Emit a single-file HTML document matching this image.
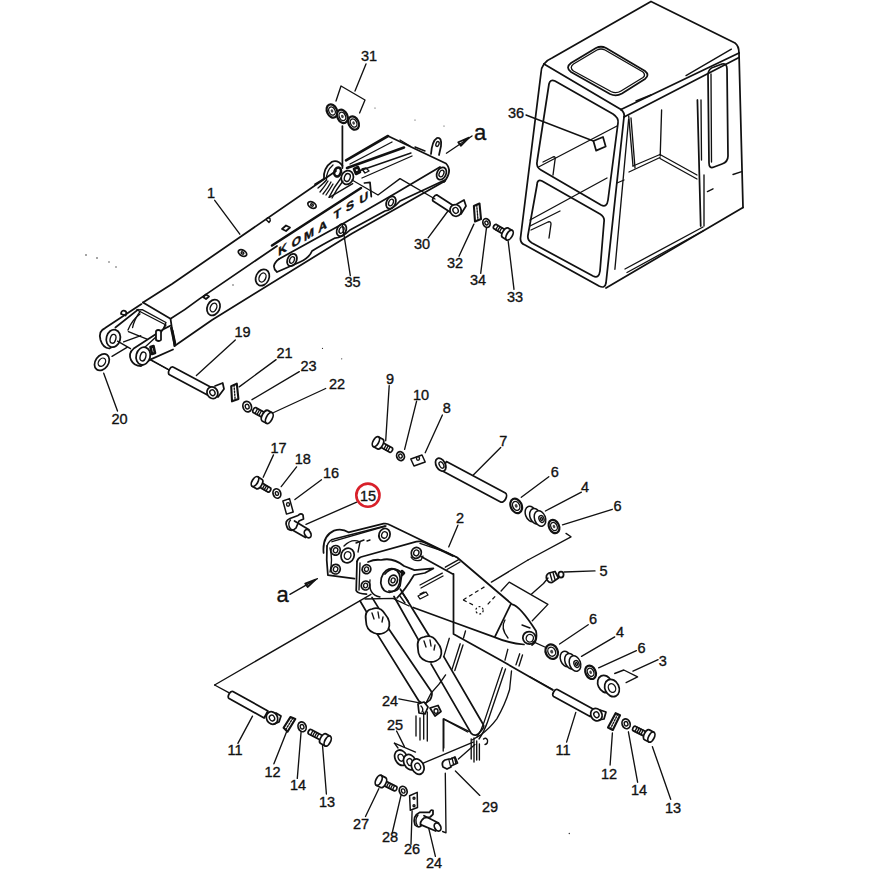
<!DOCTYPE html>
<html><head><meta charset="utf-8">
<style>
html,body{margin:0;padding:0;background:#fff;}
body{width:874px;height:874px;overflow:hidden;}
svg{display:block;}
text{font-family:"Liberation Sans",sans-serif;font-size:14.5px;fill:#111;text-anchor:middle;stroke:#111;stroke-width:0.35;}
.s{fill:none;stroke:#111;stroke-width:1.75;stroke-linecap:round;stroke-linejoin:round;}
.t{fill:none;stroke:#111;stroke-width:1.35;stroke-linecap:round;stroke-linejoin:round;}
.k{fill:none;stroke:#111;stroke-width:2.6;stroke-linecap:round;stroke-linejoin:round;}
.w{fill:#fff;stroke:#111;stroke-width:1.75;stroke-linejoin:round;}
.d{fill:none;stroke:#111;stroke-width:1.2;stroke-dasharray:4 3;}
</style></head><body>
<svg width="874" height="874" viewBox="0 0 874 874">
<rect width="874" height="874" fill="#fff"/>
<path class="t" d="M366.0 64.0 L355.0 91.0"/>
<path class="t" d="M526.0 115.0 L593.4 141.0"/>
<path class="t" d="M214.7 200.3 L239.8 234.2"/>
<path class="t" d="M428.1 237.8 L447.6 211.5"/>
<path class="t" d="M459.0 256.2 L473.9 224.1"/>
<path class="t" d="M480.7 273.3 L486.5 227.6"/>
<path class="t" d="M514.0 289.3 L508.2 241.3"/>
<path class="t" d="M350.3 275.6 L342.3 224.1"/>
<path class="t" d="M235.3 340.0 L196.4 375.5"/>
<path class="t" d="M276.1 359.6 L239.2 386.9"/>
<path class="t" d="M299.3 371.6 L252.0 399.7"/>
<path class="t" d="M325.7 388.5 L273.7 412.5"/>
<path class="t" d="M117.5 411.0 L103.7 373.2"/>
<path class="t" d="M389.2 385.7 L385.7 440.7"/>
<path class="t" d="M416.6 401.2 L404.6 449.3"/>
<path class="t" d="M442.4 415.0 L425.2 452.7"/>
<path class="t" d="M500.7 447.5 L473.3 475.0"/>
<path class="t" d="M273.5 454.9 L263.2 477.2"/>
<path class="t" d="M296.6 466.9 L281.2 486.6"/>
<path class="t" d="M321.5 479.8 L294.9 499.5"/>
<path class="t" d="M356.7 502.1 L306.0 524.4"/>
<path class="t" d="M548.8 476.7 L521.3 497.3"/>
<path class="t" d="M581.4 492.2 L545.4 511.0"/>
<path class="t" d="M612.3 509.3 L562.5 524.8"/>
<path class="t" d="M457.9 525.2 L448.7 546.9"/>
<path class="t" d="M564.2 572.0 L595.0 570.9"/>
<path class="t" d="M588.2 624.7 L559.6 644.0"/>
<path class="t" d="M614.7 636.9 L581.5 656.3"/>
<path class="t" d="M636.4 650.6 L598.6 667.8"/>
<path class="t" d="M658.1 659.7 L633.0 671.2"/>
<path class="t" d="M398.8 698.9 L422.1 703.3"/>
<path class="t" d="M396.6 731.0 L404.4 746.6"/>
<path class="t" d="M237.9 743.4 L252.5 716.1"/>
<path class="t" d="M273.9 763.8 L286.6 731.7"/>
<path class="t" d="M297.3 778.4 L301.1 731.7"/>
<path class="t" d="M326.4 794.0 L322.5 745.3"/>
<path class="t" d="M566.6 742.1 L575.8 712.4"/>
<path class="t" d="M610.1 765.0 L612.4 733.0"/>
<path class="t" d="M637.6 782.2 L628.4 731.8"/>
<path class="t" d="M670.7 799.3 L652.4 746.7"/>
<path class="t" d="M455.4 771.0 L479.8 795.4"/>
<path class="t" d="M365.5 816.5 L378.8 788.7"/>
<path class="t" d="M392.2 833.0 L401.0 795.4"/>
<path class="t" d="M411.0 844.2 L412.1 811.0"/>
<path class="t" d="M435.4 856.4 L428.8 828.7"/>
<path class="t" d="M336.0 101.0 L341.0 86.0 L365.0 100.0 L359.6 113.0"/>
<path class="t" d="M614.7 673.5 L623.8 670.0 L637.6 676.9 L626.1 682.6"/>
<path class="t" d="M446.4 153.2 L472.0 136.0"/>
<path class="s" d="M458.2 142.2 L460.8 145.8 L469 137.6 Z"/>
<path class="t" d="M289.9 594.4 L317.4 578.6"/>
<path class="s" d="M305.2 583.6 L307.6 587 L315.5 579.6 Z"/>
<ellipse cx="332" cy="111" rx="5" ry="7" transform="rotate(-25 332 111)" style="fill:#fff;stroke:#111;stroke-width:2.2"/>
<ellipse class="t" cx="332" cy="111" rx="3.1" ry="4.34" transform="rotate(-25 332 111)"/>
<ellipse cx="332" cy="111" rx="1.25" ry="1.75" transform="rotate(-25 332 111)" style="fill:#444;stroke:none"/>
<ellipse cx="342.4" cy="116.4" rx="5" ry="7" transform="rotate(-25 342.4 116.4)" style="fill:#fff;stroke:#111;stroke-width:2.2"/>
<ellipse class="t" cx="342.4" cy="116.4" rx="3.1" ry="4.34" transform="rotate(-25 342.4 116.4)"/>
<ellipse cx="342.4" cy="116.4" rx="1.25" ry="1.75" transform="rotate(-25 342.4 116.4)" style="fill:#444;stroke:none"/>
<ellipse cx="353.6" cy="123" rx="5" ry="7" transform="rotate(-25 353.6 123)" style="fill:#fff;stroke:#111;stroke-width:2.2"/>
<ellipse class="t" cx="353.6" cy="123" rx="3.1" ry="4.34" transform="rotate(-25 353.6 123)"/>
<ellipse cx="353.6" cy="123" rx="1.25" ry="1.75" transform="rotate(-25 353.6 123)" style="fill:#444;stroke:none"/>
<path class="s" d="M342.4 126.0 L342.4 168.0"/>
<path class="w" d="M433.0 201.1 L450.0 212.1 L454.0 205.9 L437.0 194.9 A2.2 3.8 33 0 0 433.0 201.1Z"/>
<ellipse class="w" cx="455.6" cy="210.4" rx="5.5" ry="6" transform="rotate(-30 455.6 210.4)"/>
<ellipse class="t" cx="455.6" cy="210.4" rx="2.6" ry="3" transform="rotate(-30 455.6 210.4)"/>
<path class="s" d="M457 204 L464 200 L466 206 L461 214"/>
<path class="s" d="M473.9 206.0 L479.5 203.5 L481.0 219.0 L475.0 221.5Z" style="fill:#fff;stroke-width:2.1"/>
<path class="t" d="M476.7 204.8 L478.0 220.2" style="stroke-dasharray:1.5 1.5"/>
<ellipse class="w" cx="486.5" cy="223" rx="3.5" ry="4.5" transform="rotate(-20 486.5 223)"/>
<ellipse class="t" cx="486.5" cy="223" rx="1.575" ry="2.025" transform="rotate(-20 486.5 223)"/>
<path class="w" d="M493.7 228.6 L506.9 236.5 L509.5 232.3 L496.3 224.4 A1.5 2.5 31 0 0 493.7 228.6Z"/>
<path class="t" d="M495.6 229.8 L498.2 225.5"/>
<path class="t" d="M497.5 230.9 L500.1 226.6"/>
<path class="t" d="M499.4 232.0 L501.9 227.7"/>
<path class="w" d="M502.4 237.3 L506.7 239.9 L512.3 230.5 L508.0 227.9 A2.8 5.5 31 0 0 502.4 237.3Z"/>
<ellipse class="w" cx="509.5" cy="235.2" rx="2.8" ry="5.5" transform="rotate(31 509.5 235.2)"/>
<path class="w" d="M169.5 374.8 L207.0 394.8 L211.0 387.2 L173.5 367.2 A2.5 4.2 28 0 0 169.5 374.8Z"/>
<ellipse class="w" cx="212.4" cy="392.7" rx="5.3" ry="6" transform="rotate(-30 212.4 392.7)"/>
<ellipse class="t" cx="212.4" cy="392.7" rx="2.5" ry="3" transform="rotate(-30 212.4 392.7)"/>
<path class="s" d="M215 386 L222.7 383 L224 389 L218 397"/>
<path class="t" d="M150.6 359.5 L169.0 369.8"/>
<path class="s" d="M231.2 386.1 L236.8 383.7 L238.4 398.9 L232.0 401.3Z" style="fill:#fff;stroke-width:2.1"/>
<path class="t" d="M234.0 384.9 L235.2 400.1" style="stroke-dasharray:1.5 1.5"/>
<ellipse class="w" cx="247.2" cy="406.6" rx="4.2" ry="5.3" transform="rotate(-20 247.2 406.6)"/>
<ellipse class="t" cx="247.2" cy="406.6" rx="1.8900000000000001" ry="2.385" transform="rotate(-20 247.2 406.6)"/>
<path class="w" d="M253.1 412.4 L266.7 419.7 L269.3 414.9 L255.7 407.6 A1.6 2.8 28 0 0 253.1 412.4Z"/>
<path class="t" d="M255.0 413.5 L257.6 408.6"/>
<path class="t" d="M257.0 414.5 L259.6 409.7"/>
<path class="t" d="M258.9 415.5 L261.5 410.7"/>
<path class="w" d="M262.1 420.9 L266.5 423.3 L272.2 412.7 L267.8 410.4 A3.0 6.0 28 0 0 262.1 420.9Z"/>
<ellipse class="w" cx="269.3" cy="418.0" rx="3.0" ry="6.0" transform="rotate(28 269.3 418.0)"/>
<ellipse class="w" cx="101.9" cy="362.2" rx="6.5" ry="9" transform="rotate(35 101.9 362.2)"/>
<ellipse class="t" cx="101.9" cy="362.2" rx="3.25" ry="4.5" transform="rotate(35 101.9 362.2)"/>
<path class="w" d="M392.1 447.8 L378.4 440.2 L376.0 444.6 L389.7 452.2 A1.5 2.5 -151 0 0 392.1 447.8Z"/>
<path class="t" d="M390.2 446.7 L387.8 451.1"/>
<path class="t" d="M388.3 445.7 L385.8 450.1"/>
<path class="t" d="M386.3 444.6 L383.9 449.0"/>
<path class="w" d="M382.9 439.3 L378.6 436.9 L373.2 446.5 L377.6 448.9 A2.8 5.5 -151 0 0 382.9 439.3Z"/>
<ellipse class="w" cx="375.9" cy="441.7" rx="2.8" ry="5.5" transform="rotate(-151 375.9 441.7)"/>
<ellipse class="w" cx="400.5" cy="456.1" rx="3.8" ry="4.5" transform="rotate(-20 400.5 456.1)"/>
<ellipse class="t" cx="400.5" cy="456.1" rx="1.71" ry="2.025" transform="rotate(-20 400.5 456.1)"/>
<path class="s" d="M410.8 459.0 L422.0 455.0 L425.2 462.0 L414.0 466.0Z" style="fill:#fff;stroke-width:1.5"/>
<ellipse class="t" cx="418.0" cy="458.5" rx="1.5" ry="1.8" transform="rotate(0 418.0 458.5)" style="fill:#fff"/>
<path class="w" d="M505.4 493.1 L446.4 461.6 L441.6 470.4 L500.6 501.9 A3.0 5.0 -152 0 0 505.4 493.1Z"/>
<ellipse class="w" cx="440.7" cy="464.7" rx="4.5" ry="7" transform="rotate(-30 440.7 464.7)"/>
<ellipse class="t" cx="441.5" cy="465" rx="2" ry="3.5" transform="rotate(-30 441.5 465)"/>
<ellipse cx="516.2" cy="505.9" rx="5.5" ry="7.5" transform="rotate(-25 516.2 505.9)" style="fill:#fff;stroke:#111;stroke-width:2.2"/>
<ellipse class="t" cx="516.2" cy="505.9" rx="3.41" ry="4.65" transform="rotate(-25 516.2 505.9)"/>
<ellipse cx="516.2" cy="505.9" rx="1.375" ry="1.875" transform="rotate(-25 516.2 505.9)" style="fill:#444;stroke:none"/>
<ellipse cx="531" cy="514.0" rx="5.5" ry="8" transform="rotate(-20 531 514.0)" style="fill:#fff;stroke:#111;stroke-width:1.5"/>
<ellipse cx="535.5" cy="516.25" rx="5.5" ry="8" transform="rotate(-20 535.5 516.25)" style="fill:#fff;stroke:#111;stroke-width:1.5"/>
<ellipse cx="540" cy="518.5" rx="5.5" ry="8" transform="rotate(-20 540 518.5)" style="fill:#fff;stroke:#111;stroke-width:1.5"/>
<ellipse class="t" cx="541.5" cy="519" rx="2.5" ry="3.5" transform="rotate(-20 541.5 519)"/>
<ellipse class="t" cx="541.5" cy="519" rx="1" ry="1.5" transform="rotate(-20 541.5 519)"/>
<ellipse cx="554" cy="526.5" rx="5" ry="7" transform="rotate(-25 554 526.5)" style="fill:#fff;stroke:#111;stroke-width:2.2"/>
<ellipse class="t" cx="554" cy="526.5" rx="3.1" ry="4.34" transform="rotate(-25 554 526.5)"/>
<ellipse cx="554" cy="526.5" rx="1.25" ry="1.75" transform="rotate(-25 554 526.5)" style="fill:#444;stroke:none"/>
<path class="t" d="M566.0 533.4 L571.0 536.8 L528.0 560.0"/>
<path class="w" d="M270.5 487.9 L257.6 480.2 L255.0 484.4 L267.9 492.1 A1.5 2.5 -149 0 0 270.5 487.9Z"/>
<path class="t" d="M268.6 486.7 L266.0 491.0"/>
<path class="t" d="M266.7 485.6 L264.1 489.9"/>
<path class="t" d="M264.8 484.5 L262.3 488.8"/>
<path class="w" d="M262.1 479.4 L257.8 476.8 L252.2 486.3 L256.5 488.8 A2.8 5.5 -149 0 0 262.1 479.4Z"/>
<ellipse class="w" cx="255.0" cy="481.5" rx="2.8" ry="5.5" transform="rotate(-149 255.0 481.5)"/>
<ellipse class="w" cx="276.9" cy="493.5" rx="3.8" ry="4.8" transform="rotate(-20 276.9 493.5)"/>
<ellipse class="t" cx="276.9" cy="493.5" rx="1.52" ry="1.92" transform="rotate(-20 276.9 493.5)"/>
<path class="s" d="M282.9 501.0 L289.5 498.6 L293.2 512.0 L286.5 514.1Z" style="fill:#fff;stroke-width:1.5"/>
<ellipse class="t" cx="288.025" cy="504.42499999999995" rx="1.5" ry="1.8" transform="rotate(0 288.025 504.42499999999995)" style="fill:#fff"/>
<path class="w" d="M287 527 Q284 521 290 518.5 L298 515.5 Q301 512.5 303 515 L303.5 519 L299 521 L296 528 Q292 532 288 529 Z"/>
<path class="t" d="M290.5 520 Q287 524 290.5 529"/>
<path class="s" d="M294.5 521 L309 529.8 M291.5 529.5 L305.5 537.5"/>
<ellipse class="w" cx="307.7" cy="533.7" rx="3" ry="4.4" transform="rotate(-30 307.7 533.7)"/>
<path class="w" d="M547 580 Q545 575 549 573 L555 571.5 L558.5 578 L552 582.5 Q549 583 547 580 Z"/>
<path class="t" d="M550 573.5 l2 7 M553 572.5 l2 7"/>
<ellipse class="w" cx="561" cy="574.5" rx="2.6" ry="3" transform="rotate(0 561 574.5)"/>
<ellipse cx="551.7" cy="651.7" rx="6" ry="7.5" transform="rotate(-25 551.7 651.7)" style="fill:#fff;stroke:#111;stroke-width:2.2"/>
<ellipse class="t" cx="551.7" cy="651.7" rx="3.7199999999999998" ry="4.65" transform="rotate(-25 551.7 651.7)"/>
<ellipse cx="551.7" cy="651.7" rx="1.5" ry="1.875" transform="rotate(-25 551.7 651.7)" style="fill:#444;stroke:none"/>
<ellipse cx="566" cy="659.0" rx="5.5" ry="8" transform="rotate(-20 566 659.0)" style="fill:#fff;stroke:#111;stroke-width:1.5"/>
<ellipse cx="570.5" cy="661.25" rx="5.5" ry="8" transform="rotate(-20 570.5 661.25)" style="fill:#fff;stroke:#111;stroke-width:1.5"/>
<ellipse cx="575" cy="663.5" rx="5.5" ry="8" transform="rotate(-20 575 663.5)" style="fill:#fff;stroke:#111;stroke-width:1.5"/>
<ellipse class="t" cx="576.5" cy="664" rx="2.5" ry="3.5" transform="rotate(-20 576.5 664)"/>
<ellipse class="t" cx="576.5" cy="664" rx="1" ry="1.5" transform="rotate(-20 576.5 664)"/>
<ellipse cx="590.6" cy="672.3" rx="5" ry="7" transform="rotate(-25 590.6 672.3)" style="fill:#fff;stroke:#111;stroke-width:2.2"/>
<ellipse class="t" cx="590.6" cy="672.3" rx="3.1" ry="4.34" transform="rotate(-25 590.6 672.3)"/>
<ellipse cx="590.6" cy="672.3" rx="1.25" ry="1.75" transform="rotate(-25 590.6 672.3)" style="fill:#444;stroke:none"/>
<ellipse class="w" cx="605" cy="684" rx="7" ry="9" transform="rotate(-25 605 684)"/>
<ellipse class="w" cx="612" cy="688" rx="7" ry="9" transform="rotate(-25 612 688)"/>
<ellipse class="t" cx="612" cy="688" rx="3.5" ry="4.5" transform="rotate(-25 612 688)"/>
<path class="t" d="M530.0 676.9 L552.9 689.5"/>
<path class="w" d="M553.6 696.5 L590.1 716.5 L593.9 709.5 L557.4 689.5 A2.4 4.0 29 0 0 553.6 696.5Z"/>
<ellipse class="w" cx="596.4" cy="714.7" rx="5.5" ry="6.5" transform="rotate(-30 596.4 714.7)"/>
<ellipse class="t" cx="596.4" cy="714.7" rx="2.5" ry="3" transform="rotate(-30 596.4 714.7)"/>
<path class="s" d="M600 710 L606 712 L604 719 L599 720"/>
<path class="s" d="M608.0 727.6 L615.6 713.2 L620.0 715.2 L612.8 730.0Z" style="fill:#fff;stroke-width:2.1"/>
<path class="t" d="M617.8 714.2 L610.4 728.8" style="stroke-dasharray:1.5 1.5"/>
<ellipse class="w" cx="626.1" cy="723.8" rx="4" ry="5" transform="rotate(-20 626.1 723.8)"/>
<ellipse class="t" cx="626.1" cy="723.8" rx="1.8" ry="2.25" transform="rotate(-20 626.1 723.8)"/>
<path class="w" d="M633.0 730.6 L649.0 738.6 L651.2 734.2 L635.2 726.2 A1.5 2.5 27 0 0 633.0 730.6Z"/>
<path class="t" d="M634.9 731.6 L637.2 727.1"/>
<path class="t" d="M636.9 732.6 L639.2 728.1"/>
<path class="t" d="M638.9 733.6 L641.1 729.1"/>
<path class="t" d="M640.9 734.6 L643.1 730.1"/>
<path class="w" d="M644.5 739.8 L649.0 742.0 L653.9 732.2 L649.4 729.9 A2.8 5.5 27 0 0 644.5 739.8Z"/>
<ellipse class="w" cx="651.4" cy="737.1" rx="2.8" ry="5.5" transform="rotate(27 651.4 737.1)"/>
<path class="t" d="M214.6 685.0 L229.2 692.8"/>
<path class="t" d="M214.6 685.0 L371.0 594.3"/>
<path class="w" d="M229.1 698.5 L264.1 718.0 L267.9 711.0 L232.9 691.5 A2.4 4.0 29 0 0 229.1 698.5Z"/>
<ellipse class="w" cx="272" cy="718" rx="5.5" ry="6.5" transform="rotate(-30 272 718)"/>
<ellipse class="t" cx="272" cy="718" rx="2.5" ry="3" transform="rotate(-30 272 718)"/>
<path class="s" d="M276 713 L281 716 L279 722 L274 724"/>
<path class="s" d="M283.6 727.8 L290.4 717.1 L295.3 719.0 L287.5 731.7Z" style="fill:#fff;stroke-width:2.1"/>
<path class="t" d="M292.9 718.0 L285.6 729.8" style="stroke-dasharray:1.5 1.5"/>
<ellipse class="w" cx="302.1" cy="726.8" rx="4" ry="5" transform="rotate(-20 302.1 726.8)"/>
<ellipse class="t" cx="302.1" cy="726.8" rx="1.8" ry="2.25" transform="rotate(-20 302.1 726.8)"/>
<path class="w" d="M308.7 733.9 L325.2 742.6 L327.6 738.2 L311.1 729.5 A1.5 2.5 28 0 0 308.7 733.9Z"/>
<path class="t" d="M310.7 734.9 L313.0 730.5"/>
<path class="t" d="M312.6 736.0 L315.0 731.5"/>
<path class="t" d="M314.6 737.0 L316.9 732.6"/>
<path class="t" d="M316.5 738.0 L318.9 733.6"/>
<path class="w" d="M320.7 743.6 L325.2 746.0 L330.3 736.2 L325.9 733.9 A2.8 5.5 28 0 0 320.7 743.6Z"/>
<ellipse class="w" cx="327.7" cy="741.1" rx="2.8" ry="5.5" transform="rotate(28 327.7 741.1)"/>
<path class="t" d="M394.4 743.2 L415.5 752.1"/>
<path class="t" d="M394.4 743.2 L398.0 748.0"/>
<ellipse class="w" cx="401" cy="757.7" rx="6" ry="8" transform="rotate(-25 401 757.7)"/>
<ellipse class="t" cx="401" cy="757.7" rx="2.7" ry="3.6" transform="rotate(-25 401 757.7)"/>
<ellipse class="w" cx="409.9" cy="762.1" rx="6" ry="8" transform="rotate(-25 409.9 762.1)"/>
<ellipse class="t" cx="409.9" cy="762.1" rx="2.7" ry="3.6" transform="rotate(-25 409.9 762.1)"/>
<ellipse class="w" cx="417.7" cy="766.6" rx="6" ry="8" transform="rotate(-25 417.7 766.6)"/>
<ellipse class="t" cx="417.7" cy="766.6" rx="2.7" ry="3.6" transform="rotate(-25 417.7 766.6)"/>
<path class="t" d="M423.2 763.2 L473.2 742.1"/>
<path class="w" d="M443 767 Q441 762 445 760 L449 759 L451 767 L447 769 Z"/>
<path class="w" d="M449.5 759.5 L455 757 L457.5 763 L451 766"/>
<path class="t" d="M452 758 l1.5 6 M454.5 757.5 l1.5 6"/>
<path class="w" d="M396.6 786.5 L381.1 778.8 L378.9 783.2 L394.4 790.9 A1.5 2.5 -154 0 0 396.6 786.5Z"/>
<path class="t" d="M394.6 785.5 L392.4 790.0"/>
<path class="t" d="M392.7 784.5 L390.4 789.0"/>
<path class="t" d="M390.7 783.5 L388.5 788.0"/>
<path class="t" d="M388.7 782.5 L386.5 787.0"/>
<path class="w" d="M385.6 777.6 L381.1 775.4 L376.2 785.3 L380.7 787.5 A2.8 5.5 -154 0 0 385.6 777.6Z"/>
<ellipse class="w" cx="378.7" cy="780.3" rx="2.8" ry="5.5" transform="rotate(-154 378.7 780.3)"/>
<ellipse class="w" cx="403.2" cy="791" rx="3.8" ry="4.8" transform="rotate(-20 403.2 791)"/>
<ellipse class="t" cx="403.2" cy="791" rx="1.71" ry="2.16" transform="rotate(-20 403.2 791)"/>
<path class="s" d="M409.6 795.8 L417.2 792.4 L417.5 807.5 L410.3 810.2Z" style="fill:#fff;stroke-width:1.5"/>
<ellipse class="t" cx="414" cy="798.2" rx="1" ry="1" transform="rotate(0 414 798.2)"/>
<ellipse class="t" cx="414" cy="805.7" rx="1" ry="1" transform="rotate(0 414 805.7)"/>
<path class="w" d="M415 825 Q412 816 419.9 812.3 L429.5 812.3 Q431 809 433 810.5 L433 814.3 L430.2 817 L424 818 Q419 822 421 826 Q418 828 415 825 Z"/>
<path class="t" d="M418 815 Q414 820 417.5 826"/>
<path class="s" d="M424 815.7 L438.6 823 M420.6 824.6 L435.7 831"/>
<ellipse class="w" cx="437.6" cy="827" rx="3" ry="4.3" transform="rotate(-30 437.6 827)"/>
<path class="t" d="M445.3 773.2 L446.0 832.8 L442.6 831.5"/>
<path class="t" d="M443.2 751.0 L443.2 718.8 L467.6 732.0"/>
<circle cx="86" cy="255" r="0.8" fill="#333"/>
<circle cx="97" cy="258" r="0.8" fill="#333"/>
<circle cx="109" cy="262" r="0.7" fill="#333"/>
<circle cx="116" cy="267" r="0.7" fill="#333"/>
<circle cx="233" cy="285" r="0.7" fill="#333"/>
<circle cx="375" cy="108" r="0.6" fill="#333"/>
<circle cx="415" cy="120" r="0.6" fill="#333"/>
<circle cx="444" cy="126" r="0.6" fill="#333"/>
<circle cx="569.3" cy="833.5" r="0.7" fill="#333"/>
<circle cx="322.5" cy="348.4" r="0.6" fill="#333"/>
<circle cx="341.7" cy="358.8" r="0.6" fill="#333"/>
<path class="s" d="M143 302.5 L172 284 L336 171"/>
<path class="t" d="M266 219.5 q2 -3 4 -1 q1 2 -1 4 z"/>
<path class="k" d="M346 160.3 L388 136"/>
<path class="s" d="M388 136 L446 163.5 Q453 171 444 182"/>
<path class="s" d="M431 154 Q432 141 437 138 Q442 137 441 146 L439 155"/>
<ellipse class="t" cx="437.5" cy="144" rx="1.5" ry="2.5" transform="rotate(20 437.5 144)"/>
<path class="t" d="M400 140 L410 146 M415 147 L425 151"/>
<path class="k" d="M347 168 L404 147.5"/>
<path class="t" d="M350 164 L392 142"/>
<path class="t" d="M356 172 L411 153"/>
<path class="t" d="M362 178 L412 156"/>
<path class="s" d="M170.5 318.7 Q185 310 199.8 298.6 L277 246"/>
<path class="k" d="M272 245.5 L361 188"/>
<path class="s" d="M279 259 L345 222.5 L396 193 L440 167"/>
<path class="s" d="M279 259 Q270 266 277 272 L300 262 Q309 258 312 251 Q320 246 335 238 Q342 238 350 230 L385 211 Q392 210 400 201 L445 180"/>
<path class="s" d="M174.5 346 L212 320 L352 233.5 L445 181"/>
<path class="s" d="M143 302.5 L170.5 318.7 L174.5 346"/>
<path class="t" d="M137 310 L166 325 M140 314 Q132 320 128 330 M166 325 L160 334"/>
<ellipse class="s" cx="213.5" cy="307.5" rx="6.2" ry="8.2" transform="rotate(25 213.5 307.5)"/>
<ellipse class="t" cx="213.5" cy="307.5" rx="3.1" ry="4.51" transform="rotate(25 213.5 307.5)"/>
<ellipse class="s" cx="262.5" cy="277.5" rx="6.5" ry="8.5" transform="rotate(25 262.5 277.5)"/>
<ellipse class="t" cx="262.5" cy="277.5" rx="3.25" ry="4.675000000000001" transform="rotate(25 262.5 277.5)"/>
<ellipse class="s" cx="292" cy="260" rx="4.5" ry="6.5" transform="rotate(25 292 260)"/>
<ellipse class="t" cx="292" cy="260" rx="2.2" ry="3.5" transform="rotate(25 292 260)"/>
<ellipse class="s" cx="341.5" cy="230" rx="4.5" ry="6.5" transform="rotate(25 341.5 230)"/>
<ellipse class="t" cx="341.5" cy="230" rx="2.2" ry="3.5" transform="rotate(25 341.5 230)"/>
<ellipse class="s" cx="391" cy="202.5" rx="4.5" ry="6.5" transform="rotate(25 391 202.5)"/>
<ellipse class="t" cx="391" cy="202.5" rx="2.2" ry="3.5" transform="rotate(25 391 202.5)"/>
<ellipse class="s" cx="441.5" cy="173.5" rx="4.5" ry="6.5" transform="rotate(25 441.5 173.5)"/>
<ellipse class="t" cx="441.5" cy="173.5" rx="2.2" ry="3.5" transform="rotate(25 441.5 173.5)"/>
<ellipse class="s" cx="242.5" cy="253" rx="4.5" ry="2.8" transform="rotate(30 242.5 253)"/>
<ellipse class="t" cx="242.5" cy="253" rx="1.5" ry="1" transform="rotate(30 242.5 253)"/>
<path class="s" d="M282 229 l4 -3.5 l4 2 l-4 3.5z"/>
<ellipse class="s" cx="312" cy="205" rx="4.5" ry="2.8" transform="rotate(30 312 205)"/>
<ellipse class="t" cx="312" cy="205" rx="1.5" ry="1" transform="rotate(30 312 205)"/>
<path class="s" d="M203 297 l3 -2.5 l3 2 l-3 2.5z"/>
<path class="s" d="M315 184.3 Q321 181 324 178.8 Q323 168 332 161.7 Q338 159.5 342.5 165.8"/>
<path class="t" d="M318 188 Q324 183 326.5 180 Q326 171 333 165"/>
<path class="t" d="M320 192 Q325 186 328 181 M323 194 Q328 188 331 182 M326 195 Q330 189 333 184"/>
<ellipse class="k" cx="337.6" cy="172" rx="3.2" ry="4.6" transform="rotate(20 337.6 172)"/>
<ellipse class="w" cx="347.3" cy="177.5" rx="6" ry="7" transform="rotate(20 347.3 177.5)"/>
<ellipse class="t" cx="347.3" cy="177.5" rx="2.8" ry="4" transform="rotate(20 347.3 177.5)"/>
<path class="t" d="M341 178 Q334 187 329 197.4 M343 181 Q336 190 332 198"/>
<path class="t" d="M329.4 197.4 L352.7 183.6"/>
<path class="k" d="M354 169 l4 -2 l2 5 l-4 2z"/>
<path class="t" d="M362 169 l4 -1 l3 3 l-4 2z"/>
<path class="s" d="M364.4 183 L370 182.3 L371.3 196.7"/>
<path class="t" d="M352 180 L378 195 L400 178.6 L435 199"/>
<path class="t" d="M137 310 L142.2 309.6 L166 322.5 L163 329.4"/>
<path class="t" d="M140.1 311.3 Q134 320 132.6 327.5"/>
<path class="s" d="M141.5 304.1 L105.1 328.1 Q98 331 100.5 340 Q103 348 109.2 348.5 L116 345"/>
<path class="s" d="M138 309.6 L115.4 327.5"/>
<ellipse class="w" cx="113.3" cy="338.4" rx="6.9" ry="8.9" transform="rotate(15 113.3 338.4)"/>
<ellipse class="t" cx="113" cy="338.8" rx="2.8" ry="4.5" transform="rotate(15 113 338.8)"/>
<path class="t" d="M117.5 341.2 L130.5 348.7 M112 356.3 L127 347.4 M123.6 341.9 L140.8 335.7 M128.4 331.6 L147 339.1"/>
<path class="s" d="M121 314 q0 -3 2.5 -3.5 q3 0 3 3 l-1 2 z"/>
<path class="s" d="M170.3 325.7 L163 329.4 L133.7 348.6 Q128 353 131 360 Q134 366 141 366 L150.2 359.6 L173 349.5"/>
<path class="t" d="M160.3 333 L138.3 353.2"/>
<ellipse class="w" cx="143.2" cy="356" rx="7" ry="8.9" transform="rotate(15 143.2 356)"/>
<ellipse class="t" cx="143" cy="356.5" rx="2.8" ry="4.5" transform="rotate(15 143 356.5)"/>
<path class="w" d="M156 331 Q158 329 161 331 L161 340 Q159 342 156 340 Z"/>
<path class="k" d="M150.5 347 l3 -1 l1.5 7 l-3 1z"/>
<path class="k" d="M171.3 328 L174.9 344.9"/>
<path class="t" d="M172.7 330 L175.5 343"/>
<path class="t" d="M150.4 360 L169 370"/>
<g transform="translate(282.6 249) skewY(-33)"><text x="0" y="4.5" style="font-size:12px;font-weight:bold;stroke-width:0.4">K</text></g>
<g transform="translate(296.3 241) skewY(-33)"><text x="0" y="4.5" style="font-size:12px;font-weight:bold;stroke-width:0.4">O</text></g>
<g transform="translate(308.9 234) skewY(-33)"><text x="0" y="4.5" style="font-size:12px;font-weight:bold;stroke-width:0.4">M</text></g>
<g transform="translate(322.6 226) skewY(-33)"><text x="0" y="4.5" style="font-size:12px;font-weight:bold;stroke-width:0.4">A</text></g>
<g transform="translate(337.5 213.5) skewY(-33)"><text x="0" y="4.5" style="font-size:12px;font-weight:bold;stroke-width:0.4">T</text></g>
<g transform="translate(350.1 205.5) skewY(-33)"><text x="0" y="4.5" style="font-size:12px;font-weight:bold;stroke-width:0.4">S</text></g>
<g transform="translate(363.8 197.5) skewY(-33)"><text x="0" y="4.5" style="font-size:12px;font-weight:bold;stroke-width:0.4">U</text></g>
<path class="s" d="M544 64 Q547 60 552 58 L651 1.5 L735 43 Q739 46 739 53"/>
<path class="s" d="M544 64 L621 109.5"/>
<path class="s" d="M621 109.5 L739 53"/>
<path class="s" d="M624 117 L739 57.5"/>
<path class="s" d="M621 109.5 Q625 113 624 117"/>
<path class="s" d="M571 63 L596 48 Q601 45.5 606 48 L645 71 Q650 75 645 79 L622 93.5 Q616 97 610 94 L571 72 Q565 67.5 571 63 Z"/>
<path class="t" d="M573.5 64 L597 50 Q601 48 605 50 L643 72 Q646 75 643 77.5 L621 91 Q616 94 611 91.5 L573.5 71 Q569 67.5 573.5 64 Z"/>
<path class="s" d="M739 53 L743 207.5"/>
<path class="s" d="M743 207.5 L606 288"/>
<path class="t" d="M625 269 L703 227 M627 272.5 L703 231"/>
<path class="t" d="M628.6 119.5 L614.9 269.3"/>
<path class="s" d="M544 64 Q541 68 541 73 L520.5 238 Q520 243 525 245 L599 286 Q605 289 606 283 L624 117"/>
<path class="s" d="M549 84 Q550 79 555 81 L613 114 Q619 118 618 123 L608 200 Q607 208 601 205 L541 170 Q536 167 537 162 Z"/>
<path class="s" d="M537 185 Q537 179 542 181 L600 214 Q605 217 604 222 L600 271 Q599 279 593 276 L532 243 Q527 240 528 235 Z"/>
<path class="t" d="M538.5 167 L617 126"/>
<path class="t" d="M530 220 L607 178"/>
<path class="t" d="M530 226 L560 211"/>
<path class="t" d="M543 162 L553 157 Q556 156 555 160 L553 175"/>
<path class="t" d="M531 230 L548 222 Q551 221 551 224 L549 238"/>
<path class="s" d="M593.4 141 L603 137 L605.7 146.5 L596.1 150.6 Z"/>
<path class="t" d="M628.7 116 L633 166"/>
<path class="t" d="M631 118 L635 168"/>
<path class="t" d="M661.6 110 L660.2 156"/>
<path class="t" d="M660 154.5 L697 175"/>
<path class="t" d="M660 158.5 L697 179"/>
<path class="t" d="M633 166 L660 154.5"/>
<path class="t" d="M629 172 L660 157.5"/>
<path class="s" d="M697.4 100 L700.7 226"/>
<path class="t" d="M701 100 L701.5 160 M704 175 L704 226"/>
<path class="t" d="M617 183 L624 180"/>
<path class="s" d="M708 74 Q709 68 714 67 L722 64 Q727 63 727 69 L728 156 Q728 162 722 164 L714 167 Q709 169 709 163 Z"/>
<path class="t" d="M711 74 L711.5 162"/>
<path class="t" d="M733 174.5 L741.7 171.6 M707.4 191.6 L713 188.8"/>
<path class="t" d="M686 75.6 L731.4 49.1"/>
<path class="t" d="M636 101 L651 95"/>
<path class="s" d="M323.6 553 Q322 536 334 530.6 Q342 528 348.5 532.3 L383.6 523.7 Q387 523 390 525 L457.2 557.5 L512.2 604.4 Q520 606 536 631 Q538 641 532 645"/>
<path class="t" d="M332 541.7 L386 526 M420 543.4 L446.8 552.3 L457.2 557.5"/>
<path class="s" d="M327 546 Q326 560 327.9 575.2 L354.5 578.6"/>
<path class="t" d="M327 546 Q329 540 334 539 L385 526"/>
<path class="t" d="M330 548 Q333 560 330 572"/>
<ellipse class="w" cx="335.6" cy="550.3" rx="4.6" ry="4.8" transform="rotate(20 335.6 550.3)"/>
<ellipse class="t" cx="335.6" cy="550.3" rx="2.2" ry="2.5" transform="rotate(20 335.6 550.3)"/>
<ellipse class="w" cx="335.6" cy="569.2" rx="4.6" ry="4.8" transform="rotate(20 335.6 569.2)"/>
<ellipse class="t" cx="335.6" cy="569.2" rx="2.2" ry="2.5" transform="rotate(20 335.6 569.2)"/>
<ellipse class="s" cx="347.6" cy="555.5" rx="6.5" ry="7.5" transform="rotate(20 347.6 555.5)"/>
<ellipse class="t" cx="347.6" cy="555.5" rx="3.3" ry="3.8" transform="rotate(20 347.6 555.5)"/>
<path class="t" d="M344 546 Q352 538 360 542 L358 552"/>
<ellipse class="w" cx="384.5" cy="534.9" rx="5.5" ry="6.5" transform="rotate(20 384.5 534.9)"/>
<ellipse class="t" cx="384.5" cy="534.9" rx="2.8" ry="3.3" transform="rotate(20 384.5 534.9)"/>
<path class="t" d="M356 543 L364 540 M367 541 l3 -1"/>
<path class="s" d="M357 561.5 Q358 558 361 557 L416.3 541.7 Q421 541 424.8 542.6 L452.7 556"/>
<path class="s" d="M421.5 556.8 L452.7 573.9"/>
<path class="s" d="M357 561.5 L356.2 590.7 Q358 594 366.5 594.1"/>
<path class="t" d="M360 563 L359 590"/>
<ellipse class="w" cx="366.5" cy="569.2" rx="4.3" ry="4.5" transform="rotate(20 366.5 569.2)"/>
<ellipse class="t" cx="366.5" cy="569.2" rx="2" ry="2.3" transform="rotate(20 366.5 569.2)"/>
<ellipse class="w" cx="365.6" cy="585.5" rx="4.3" ry="4.5" transform="rotate(20 365.6 585.5)"/>
<ellipse class="t" cx="365.6" cy="585.5" rx="2" ry="2.3" transform="rotate(20 365.6 585.5)"/>
<ellipse class="s" cx="416.3" cy="552.9" rx="5" ry="5.5" transform="rotate(20 416.3 552.9)"/>
<ellipse class="t" cx="416.3" cy="552.9" rx="2.6" ry="3" transform="rotate(20 416.3 552.9)"/>
<path class="t" d="M411 557 Q414 562 421 560 L423 556"/>
<path class="s" d="M368 562 Q375 559 381 560 Q393 557 404 566 L414.5 570.1 L433.4 568.4 L424.8 573 L414 575 Q405 590 397 598"/>
<path class="t" d="M370 580 Q368 595 380 597"/>
<ellipse class="w" cx="390.5" cy="580.4" rx="9.5" ry="12" transform="rotate(15 390.5 580.4)"/>
<path class="s" d="M385 574 Q393 565 402 573 L400 586 Q397 593 389 591"/>
<ellipse class="w" cx="393.1" cy="580.4" rx="4.3" ry="5.3" transform="rotate(20 393.1 580.4)"/>
<ellipse class="t" cx="393.1" cy="580.4" rx="2" ry="2.5" transform="rotate(20 393.1 580.4)"/>
<path class="k" d="M402 571 l2 2 l-2 2 z"/>
<path class="t" d="M418 596 l8 -4 l2 3 l-8 4z M420 594 l4 -2"/>
<path class="s" d="M453.5 573.9 L453.5 634.1 L500.3 660 L552.7 690"/>
<path class="s" d="M413.2 607.5 L453.5 622.2 L494.4 637.1 Q508 643 524 644.5"/>
<path class="s" d="M510.7 604.4 L495.1 636.4"/>
<path class="t" d="M505 620 Q500 628 508 638"/>
<path class="t" d="M522 625 L530 628"/>
<ellipse class="w" cx="529.3" cy="637.8" rx="6.5" ry="6.2" transform="rotate(20 529.3 637.8)"/>
<ellipse class="t" cx="529.8" cy="638.2" rx="3.6" ry="3.8" transform="rotate(20 529.8 638.2)"/>
<path class="t" d="M533 641.6 L547 648"/>
<path class="t" d="M445.3 567.2 L458.7 559.7 M447 569.5 L460 562"/>
<path class="t" d="M420 585 L442.3 573.1 M421 588 L443 576"/>
<path class="d" d="M463.1 599.9 L486.2 585.8 M463.1 599.9 L475 605.9 M487.7 604.4 L497.3 594"/>
<circle class="d" cx="479.5" cy="610.3" r="3.7" style="stroke-dasharray:2 2"/>
<path class="t" d="M491.4 582.1 L528 560"/>
<path class="t" d="M501.1 591 L509.2 582.1 L547.9 604.4 L532.3 620.7"/>
<path class="t" d="M531.6 594 L543.5 583.5 L548 578"/>
<path class="t" d="M502.3 667.6 L484 722.4 Q481 731 477 737"/>
<path class="t" d="M505.5 669 L487.5 722 Q484 732 479 739"/>
<path class="t" d="M511.5 671 L509.6 689.5 Q505 705 496.8 718.8 Q490 728 480.4 735.2 L472 740"/>
<path class="t" d="M507.8 649.3 L505 660.2 M519.7 653.8 L516 664.8 M522.5 655 L519 666"/>
<path class="t" d="M460.2 643.8 L452 669.4 M463 645 L454.8 670.5 M449.3 638.3 L443.8 656.6 M465.5 631 L463.5 638"/>
<path class="t" d="M431 693.2 Q440 684 445.6 674.9 M425.5 704.1 L431 693.2"/>
<path class="t" d="M471.2 739 L471.2 759 M474 738 L474 762 M476.7 741 L476.7 760 M479.4 744 L479.4 760"/>
<path class="t" d="M483.5 739 Q486 737 487.5 740 Q488 744 485 744.5"/>
<path class="t" d="M443.8 748 L443.8 718.8 L469.4 731.6"/>
<path class="t" d="M458.4 759 L474.9 744.4"/>
<path class="s" d="M360.1 601 L369.3 616.6 M372 597.4 L383.9 616.6"/>
<path class="s" d="M376.6 633.1 L418.7 700.8 Q424 706 430 700 Q433 695 431.5 691.7 L388.5 628.5"/>
<path class="w" d="M366 621 Q364 610 372 609 Q380 606 385 614 Q392 622 388 630 Q382 636 374 633 Q366 630 366 621 Z"/>
<path class="t" d="M372 613 l2 6 M378 612 l1 6 M383 617 l-1 5"/>
<path class="s" d="M394 596.5 L418.7 640.4 M400.4 589.2 L429.7 636.8"/>
<path class="w" d="M418 649 Q416 638 424 637 Q432 634 437 642 Q444 650 440 658 Q434 664 426 661 Q418 658 418 649 Z"/>
<path class="t" d="M424 641 l2 6 M430 640 l1 6 M435 645 l-1 5"/>
<path class="s" d="M431 663.9 L471.2 733.4 Q476 738 481 731 Q485 727 483.1 724.3 L443.8 656.6"/>
<path class="t" d="M365 599 L393 598.3 L409 606"/>
<path class="t" d="M400 596 L405 603 M403 594 L408 601"/>
<path class="w" d="M418 704 L424 702 L428 707 L425 714 L419 713 Z"/>
<path class="w" d="M430 708 L438 705.5 L441 711.5 L435 716 Z"/>
<ellipse class="t" cx="436" cy="711" rx="2" ry="2.3" transform="rotate(0 436 711)"/>
<path class="t" d="M420 718 L420 740 M423.7 712 L423.7 739 M427.3 712 L427.3 741 M416 716 L416 736"/>
<path class="t" d="M421 706 Q424 709 422 712"/>
<g id="labels">
<text x="369" y="61">31</text>
<text x="516" y="118">36</text>
<text x="480" y="140" style="font-size:22px">a</text>
<text x="211" y="198">1</text>
<text x="422" y="249">30</text>
<text x="455" y="267.5">32</text>
<text x="478" y="285">34</text>
<text x="515" y="302">33</text>
<text x="352.5" y="287">35</text>
<text x="242.5" y="336.5">19</text>
<text x="284.5" y="358">21</text>
<text x="308.5" y="370.8">23</text>
<text x="337" y="388.5">22</text>
<text x="119.5" y="423.5">20</text>
<text x="390" y="384">9</text>
<text x="421" y="399.5">10</text>
<text x="446.7" y="413">8</text>
<text x="503.4" y="445.8">7</text>
<text x="278.6" y="453">17</text>
<text x="302.7" y="464.3">18</text>
<text x="331" y="478">16</text>
<text x="368" y="501">15</text>
<text x="554.8" y="476.7">6</text>
<text x="585" y="492">4</text>
<text x="617.5" y="511">6</text>
<text x="460" y="523">2</text>
<text x="603.6" y="576">5</text>
<text x="282.5" y="602" style="font-size:22px">a</text>
<text x="593" y="623.5">6</text>
<text x="620" y="637">4</text>
<text x="641.6" y="653">6</text>
<text x="662.8" y="665.5">3</text>
<text x="390" y="705.5">24</text>
<text x="395" y="730">25</text>
<text x="235" y="755">11</text>
<text x="272.5" y="777">12</text>
<text x="298" y="790">14</text>
<text x="327" y="806.6">13</text>
<text x="563" y="755">11</text>
<text x="609" y="778.7">12</text>
<text x="639" y="794.8">14</text>
<text x="673" y="813">13</text>
<text x="490" y="812">29</text>
<text x="361" y="828.7">27</text>
<text x="390" y="842">28</text>
<text x="412" y="854">26</text>
<text x="434" y="867.5">24</text>
</g>
<circle cx="367.9" cy="495.2" r="11.6" fill="none" stroke="#d8202a" stroke-width="2.6"/>
</svg>
</body></html>
